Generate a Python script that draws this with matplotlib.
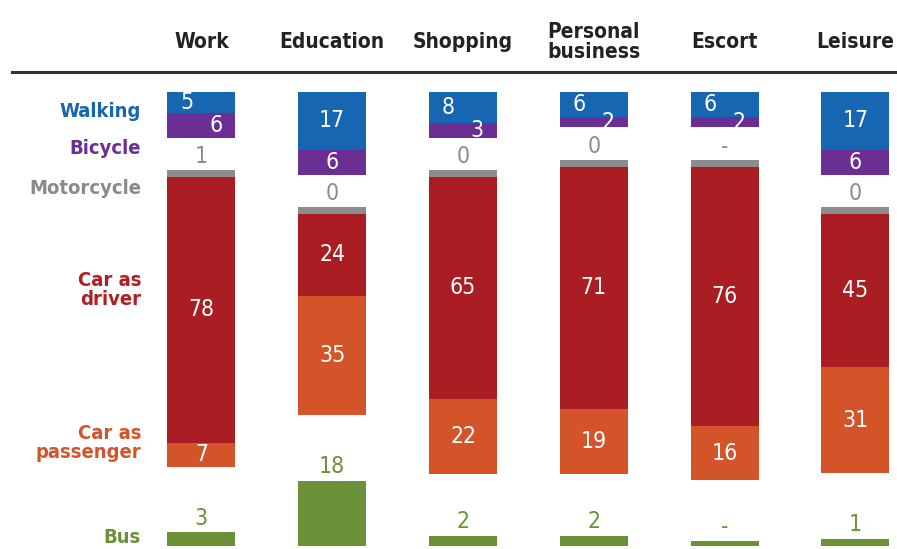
import matplotlib
matplotlib.use("Agg")
import matplotlib.pyplot as plt
import matplotlib.transforms as mtransforms
from matplotlib.lines import Line2D
import numpy as np

# trip purpose -> mode share (%), None means "-"
purposes = ["Work", "Education", "Shopping", "Personal\nbusiness", "Escort", "Leisure"]
walking = [5, 17, 8, 6, 6, 17]
bicycle = [6, 6, 3, 2, 2, 6]
motorcycle = [1, 0, 0, 0, None, 0]
car_driver = [78, 24, 65, 71, 76, 45]
car_passenger = [7, 35, 22, 19, 16, 31]
bus = [3, 18, 2, 2, None, 1]

modes = ["Walking", "Bicycle", "Motorcycle", "Car as\ndriver", "Car as\npassenger", "Bus"]

c_walk = "#1766b2"
c_bike = "#6b2f94"
c_moto = "#8c8c8c"
c_drv = "#a91d23"
c_pas = "#d4542a"
c_bus = "#6b9139"

plt.rcParams['font.family'] = ['DejaVu Sans']
plt.rcParams['font.stretch'] = 'condensed'

W, H = 897, 549
fig = plt.figure(figsize=(W / 100, H / 100), dpi=100)

# axes: y in % units, 0 at top of the stacks, downward
k = 3.41                     # px per unit
top_px = 92
ax_top_px, ax_left_px = 72, 136
ax = fig.add_axes([ax_left_px / W, 0, 1 - ax_left_px / W, 1 - ax_top_px / H])
step = 130.8
x_right = -0.5 + (W - ax_left_px) / step
ax.set_xlim(-0.5, x_right)
y_min = (ax_top_px - top_px) / k
y_max = (H - top_px) / k
ax.set_ylim(y_max, y_min)
ax.axis("off")

x = np.arange(len(purposes))
bw = 0.52
gap = 9.5
bus_base = (546 - top_px) / k
moto_h = 2.0
fs = 16.5

def disp(v, extra, empty):
    return empty if v is None else v + extra

for i in range(len(purposes)):
    xi = x[i]
    hw = walking[i] + (1.2 if walking[i] < 12 else 0)
    hb = bicycle[i] + 1.2
    ax.bar(xi, hw, bw, bottom=0, color=c_walk)
    ax.bar(xi, hb, bw, bottom=hw, color=c_bike)
    small = walking[i] < 12
    dx = 0.11 if small else 0
    ax.text(xi - dx, hw / 2, str(walking[i]), color="white", ha="center", va="center", fontsize=fs)
    ax.text(xi + dx, hw + hb / 2, str(bicycle[i]), color="white", ha="center", va="center", fontsize=fs)

    ym = hw + hb + gap
    ax.bar(xi, moto_h, bw, bottom=ym, color=c_moto)
    lbl = "-" if motorcycle[i] is None else str(motorcycle[i])
    ax.text(xi, ym - 0.5, lbl, color=c_moto, ha="center", va="bottom", fontsize=fs)

    yd = ym + moto_h
    ax.bar(xi, car_driver[i], bw, bottom=yd, color=c_drv)
    ax.text(xi, yd + car_driver[i] / 2, str(car_driver[i]), color="white", ha="center", va="center", fontsize=fs)
    yp = yd + car_driver[i]
    ax.bar(xi, car_passenger[i], bw, bottom=yp, color=c_pas)
    ax.text(xi, yp + car_passenger[i] / 2, str(car_passenger[i]), color="white", ha="center", va="center", fontsize=fs)

    hbus = disp(bus[i], 1.0, 1.5)
    ax.bar(xi, -hbus, bw, bottom=bus_base, color=c_bus)
    lbl = "-" if bus[i] is None else str(bus[i])
    ax.text(xi, bus_base - hbus - 0.8, lbl, color=c_bus, ha="center", va="bottom", fontsize=fs)

# column headers
hdr = mtransforms.blended_transform_factory(ax.transData, fig.transFigure)
for i, p in enumerate(purposes):
    ax.text(x[i], 1 - 42 / H, p, transform=hdr, ha="center", va="center",
            fontsize=15, fontweight="bold", color="#222222", linespacing=1.0)
fig.add_artist(Line2D([12 / W, 1], [1 - 72 / H] * 2, color="#333333", lw=2.2))

# row labels on the left
lab = mtransforms.blended_transform_factory(fig.transFigure, ax.transData)
lab_y = [(111 - top_px) / k, (148 - top_px) / k, (188 - top_px) / k,
         (290 - top_px) / k, (443 - top_px) / k, (537 - top_px) / k]
lab_c = [c_walk, c_bike, "#8a8a8a", "#b01e24", c_pas, c_bus]
for m, yy, cc in zip(modes, lab_y, lab_c):
    ax.text(141 / W, yy, m, transform=lab, ha="right", va="center", fontsize=14.5,
            fontweight="bold", color=cc, linespacing=1.05)

fig.savefig("out.png", dpi=100)
